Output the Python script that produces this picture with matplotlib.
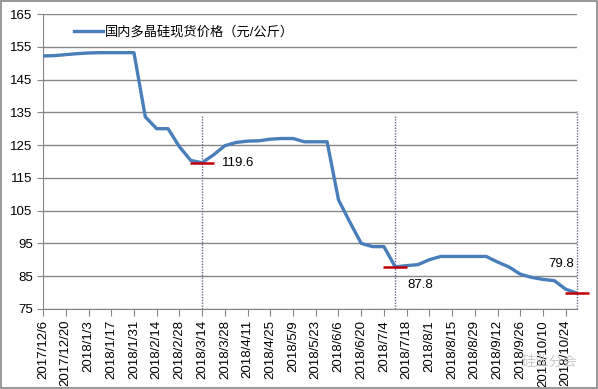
import numpy as np
import pandas as pd
import matplotlib
matplotlib.use("Agg")
import matplotlib.pyplot as plt
from matplotlib.patches import Rectangle

plt.rcParams['font.family'] = ['Liberation Sans', 'Noto Sans CJK SC', 'DejaVu Sans']

# weekly categories, 2017/12/6 .. 2018/10/31
weeks = pd.date_range("2017-12-06", "2018-10-31", freq="7D")
week_labels = [f"{d.year}/{d.month}/{d.day}" for d in weeks]

price = [152.2, 152.3, 152.6, 152.9, 153.1, 153.2, 153.2, 153.2, 153.2,
         133.6, 130.0, 130.0, 124.5, 120.3, 119.6, 122.0, 124.8, 125.8,
         126.2, 126.3, 126.8, 127.0, 127.0, 126.0, 126.0, 126.0, 108.3,
         101.5, 95.0, 94.0, 94.0, 87.8, 88.2, 88.5, 90.0, 91.0, 91.0,
         91.0, 91.0, 91.0, 89.3, 87.8, 85.6, 84.6, 84.0, 83.6, 81.0, 79.8]
series_name = "国内多晶硅现货价格（元/公斤）"

# marked weeks (index into weeks) and their labels
mark_idx = [14, 31, 47]
mark_text = ["119.6", "87.8", "79.8"]

x = np.arange(len(price))

fig = plt.figure(figsize=(5.98, 3.89), dpi=100)
ax = fig.add_axes([0.072, 0.206, 0.893, 0.758])

ax.plot(x, price, color="#4A7EBB", lw=2.4, label=series_name, zorder=3)

# dotted drop lines and red dash markers
ax.vlines([x[i] for i in mark_idx], 75, [134, 134, 135.5], colors="#6a6a8a",
          linestyles=(0, (1, 1)), lw=1.0, zorder=2, clip_on=False)
ax.plot([x[i] for i in mark_idx], [price[i] for i in mark_idx], ls="none",
        marker="_", ms=17, mew=1.8, color="#C00000", zorder=4, clip_on=False)

ax.annotate(mark_text[0], (x[14], price[14]), xytext=(14, 0), textcoords="offset points",
            fontsize=9.5, va="center", ha="left")
ax.annotate(mark_text[1], (x[31], price[31]), xytext=(9, -13), textcoords="offset points",
            fontsize=9.5, va="center", ha="left")
ax.annotate(mark_text[2], (x[47], price[47]), xytext=(-21, 21), textcoords="offset points",
            fontsize=9.5, va="center", ha="left")

ax.set_xlim(0, len(price) - 1)
ax.set_ylim(75, 165)
ax.set_yticks(np.arange(75, 166, 10))
ax.set_xticks(x[::2])
ax.set_xticklabels(week_labels[::2], rotation=90, fontsize=9.5)
ax.tick_params(axis="y", labelsize=9.5, length=4, color="#868686")
ax.tick_params(axis="x", length=5, color="#868686", pad=3)
ax.yaxis.grid(True, color="#868686", lw=1.0)
ax.set_axisbelow(True)
for s in ["top", "right"]:
    ax.spines[s].set_visible(False)
for s in ["left", "bottom"]:
    ax.spines[s].set_color("#868686")

leg = ax.legend(loc="upper left", bbox_to_anchor=(0.035, 1.0), frameon=False,
                fontsize=9.5, handlelength=2.2, handletextpad=0.2)

# watermark
fig.text(0.965, 0.07, "硅业分会", fontsize=10, color="#c4c4c4", ha="right", va="center", alpha=0.9)

# chart border
fig.add_artist(Rectangle((0.002, 0.003), 0.996, 0.994, transform=fig.transFigure,
                         fill=False, ec="#868686", lw=1.2))

fig.savefig("out.png", dpi=100)
